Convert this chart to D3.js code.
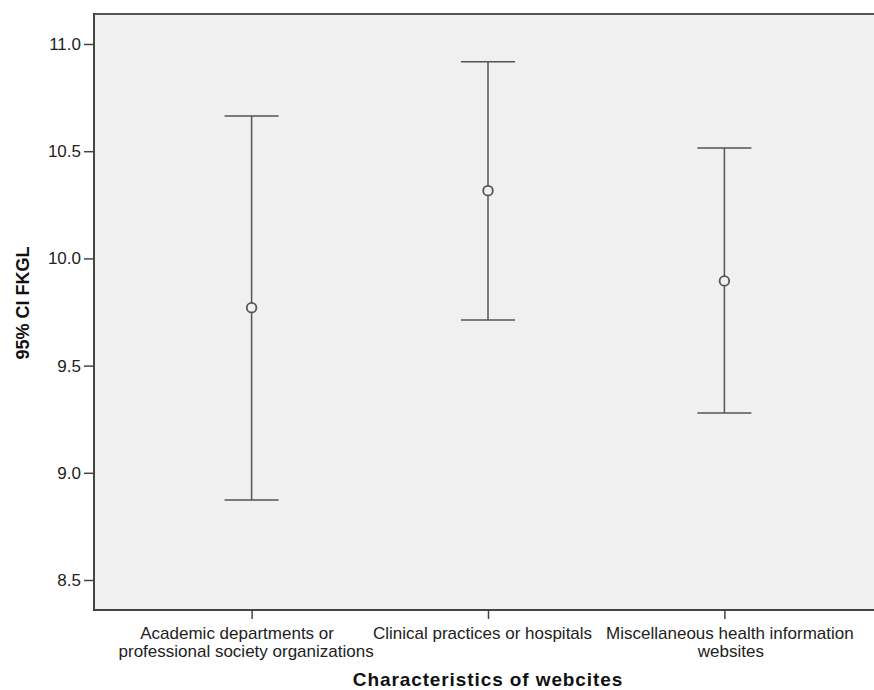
<!DOCTYPE html>
<html><head><meta charset="utf-8">
<script src="https://cdn.jsdelivr.net/npm/d3@7"></script>
<style>body{margin:0;background:#fff;} svg{display:block;}</style>
</head><body><svg id="c" width="874" height="690"></svg>
<script>
const categories = [
  ["Academic departments or", "professional society organizations"],
  ["Clinical practices or hospitals"],
  ["Miscellaneous health information", "websites"]
];
const means = [9.77, 10.316, 9.895];
const lower = [8.873, 9.713, 9.279];
const upper = [10.664, 10.917, 10.515];
const yTicks = [8.5, 9.0, 9.5, 10.0, 10.5, 11.0];

const svg = d3.select("#c");
const L = 94, T = 14, B = 610;
const font = "'Liberation Sans', Arial, sans-serif";
const labelShift = [[-15, -6], [-6], [5, 6]];

const x = d3.scalePoint().domain(d3.range(categories.length)).range([L, 882]).padding(2/3);
const y = d3.scaleLinear().domain([8.5, 11.0]).range([580, 44]);

svg.append("rect").attr("x", L).attr("y", T).attr("width", 874 - L).attr("height", B - T).attr("fill", "#f0f0f0");

// axes
const yAxis = d3.axisLeft(y).tickValues(yTicks).tickFormat(d3.format(".1f")).tickSize(10).tickPadding(3);
const gy = svg.append("g").attr("transform", `translate(${L},0)`).call(yAxis);
gy.select(".domain").remove();
gy.selectAll("line").attr("stroke", "#444").attr("stroke-width", 1.5);
gy.selectAll("text").attr("font-family", font).attr("font-size", 17).attr("fill", "#222");

const xAxis = d3.axisBottom(x).tickSize(9).tickFormat("");
const gx = svg.append("g").attr("transform", `translate(0,${B})`).call(xAxis);
gx.select(".domain").remove();
gx.selectAll("line").attr("stroke", "#444").attr("stroke-width", 1.5);

gx.selectAll(".tick").each(function(d){
  const t = d3.select(this).append("text").attr("text-anchor", "middle")
    .attr("font-family", font).attr("font-size", 17).attr("fill", "#222");
  categories[d].forEach((s, i) => t.append("tspan").attr("x", labelShift[d][i]).attr("y", 28.5 + i * 18).text(s));
});

// frame
svg.append("line").attr("x1", L).attr("x2", 874).attr("y1", T).attr("y2", T).attr("stroke", "#555").attr("stroke-width", 2);
svg.append("line").attr("x1", L).attr("x2", L).attr("y1", T - 1).attr("y2", B + 1).attr("stroke", "#444").attr("stroke-width", 2);
svg.append("line").attr("x1", L).attr("x2", 874).attr("y1", B).attr("y2", B).attr("stroke", "#444").attr("stroke-width", 2);

// error bars
const g = svg.append("g");
const cap = 27, col = "#555";
categories.forEach((c, i) => {
  const cx = x(i);
  g.append("line").attr("x1", cx).attr("x2", cx).attr("y1", y(upper[i])).attr("y2", y(lower[i])).attr("stroke", col).attr("stroke-width", 1.5);
  [upper[i], lower[i]].forEach(v => g.append("line").attr("x1", cx - cap).attr("x2", cx + cap).attr("y1", y(v)).attr("y2", y(v)).attr("stroke", col).attr("stroke-width", 1.5));
  g.append("circle").attr("cx", cx).attr("cy", y(means[i])).attr("r", 4.8).attr("fill", "#f0f0f0").attr("stroke", col).attr("stroke-width", 1.8);
});

// titles
svg.append("text").attr("x", 488).attr("y", 686).attr("text-anchor", "middle")
  .attr("font-family", font).attr("font-size", 19).attr("font-weight", "bold").attr("fill", "#111")
  .attr("letter-spacing", 0.9)
  .text("Characteristics of webcites");
svg.append("text").attr("transform", `translate(29,303) rotate(-90)`).attr("text-anchor", "middle")
  .attr("font-family", font).attr("font-size", 18).attr("font-weight", "bold").attr("fill", "#111")
  .text("95% CI FKGL");
</script></body></html>
